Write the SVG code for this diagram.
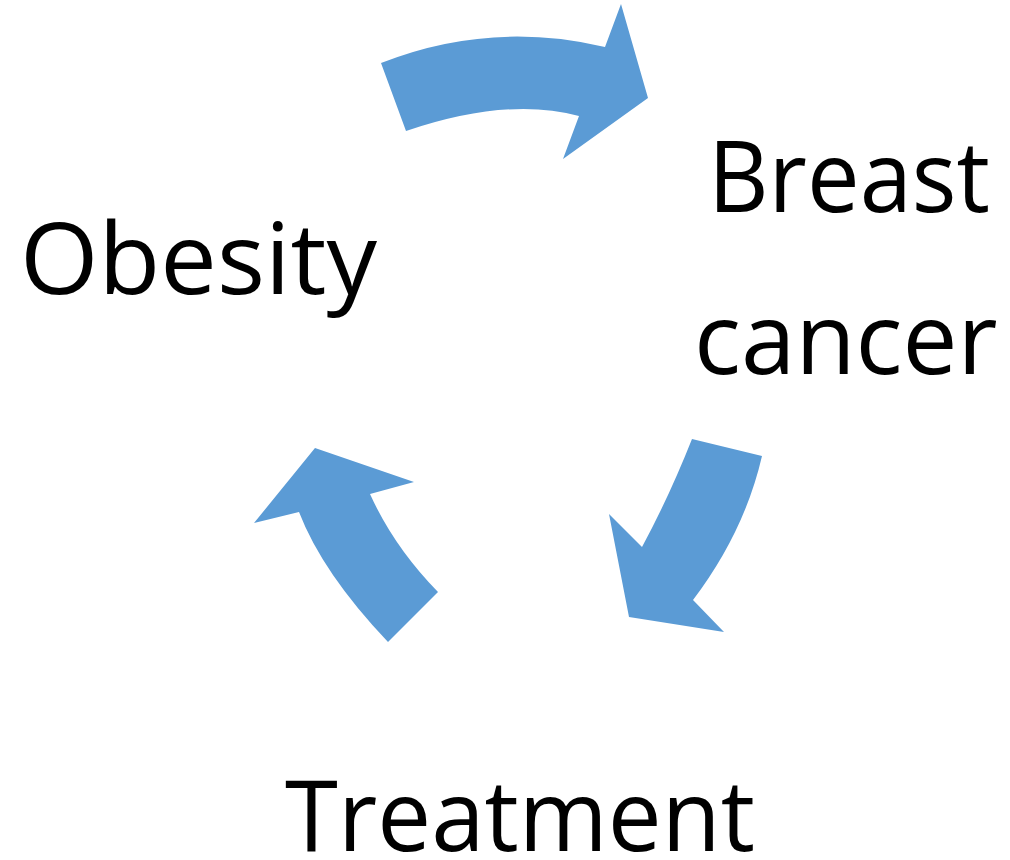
<svg xmlns="http://www.w3.org/2000/svg" width="1010" height="860" viewBox="0 0 1010 860">
<style>
.arr{fill:#5b9bd5;stroke:none}
.lbl{font-family:"Open Sans","Noto Sans",sans-serif;font-size:98px;fill:#000}
</style>
<rect width="1010" height="860" fill="#fff"/>
<g id="connectors">
<path class="arr" d="M381,63 Q490,20 605,47 L621,4 L648,98 L563,159 L579,116 Q507.5,96.5 406,131 Z"/>
<path class="arr" d="M692,439 L762,456 Q744.5,532 693,600 L724,632 L629,617 L609,514 L642,547 Q669,497 692,439 Z"/>
<path class="arr" d="M388,642 L438,592 Q394,547 370,494 L414,482 L315,448 L254,523 L299,512 Q322.5,573 388,642 Z"/>
</g>
<g id="obesity"><text class="lbl" x="20" y="294" textLength="357" lengthAdjust="spacingAndGlyphs">Obesity</text></g>
<g id="breast-cancer"><text class="lbl" x="708" y="212" textLength="282" lengthAdjust="spacingAndGlyphs">Breast</text><text class="lbl" x="694" y="374">cancer</text></g>
<g id="treatment"><text class="lbl" x="285" y="851" textLength="470" lengthAdjust="spacingAndGlyphs">Treatment</text></g>
</svg>
